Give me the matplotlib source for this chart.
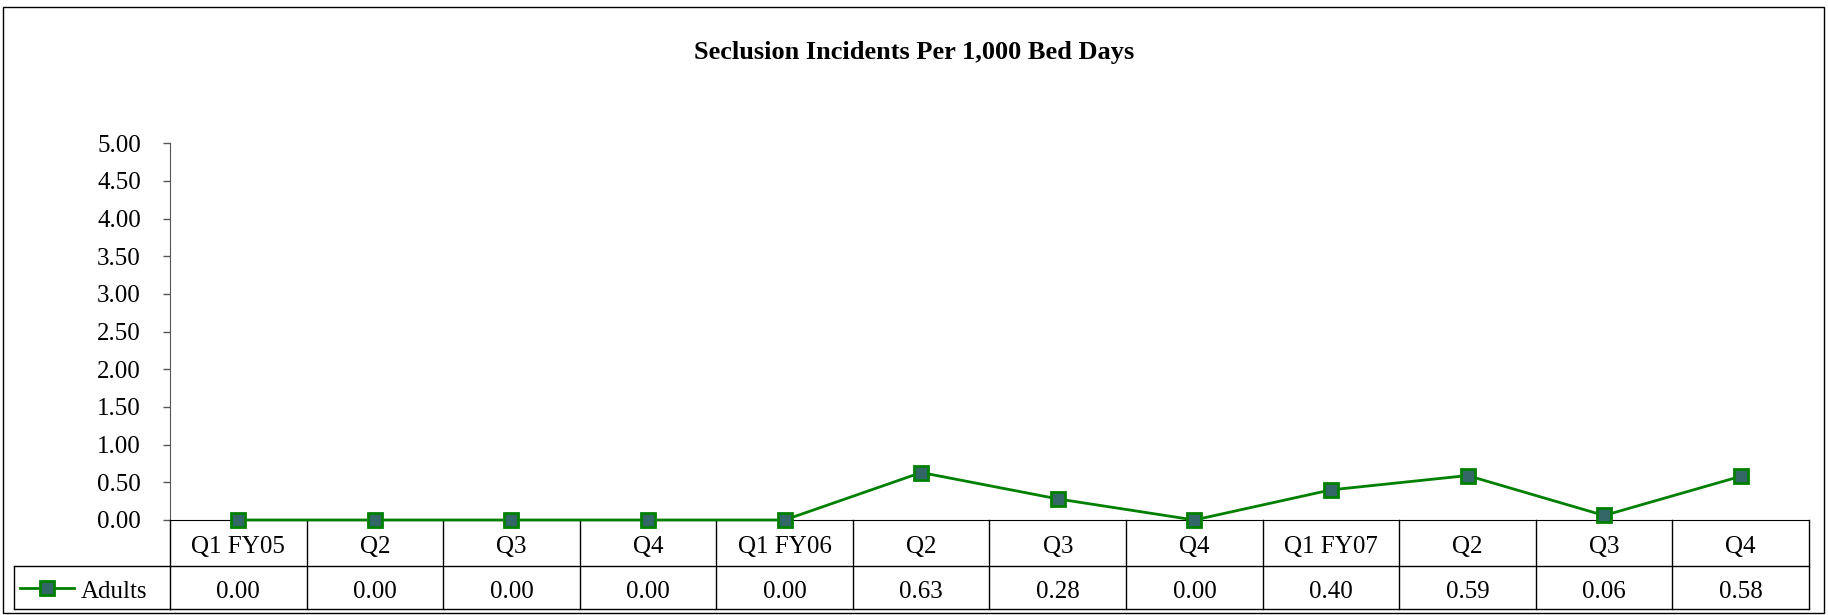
import matplotlib
matplotlib.use("Agg")
import matplotlib.pyplot as plt
from matplotlib.lines import Line2D
from matplotlib.patches import Rectangle
import matplotlib.transforms as mtransforms

plt.rcParams['font.family'] = ['Liberation Serif', 'DejaVu Serif']

title = "Seclusion Incidents Per 1,000 Bed Days"
categories = ["Q1 FY05", "Q2", "Q3", "Q4", "Q1 FY06", "Q2", "Q3", "Q4",
              "Q1 FY07", "Q2", "Q3", "Q4"]
series_name = "Adults"
values = [0.00, 0.00, 0.00, 0.00, 0.00, 0.63, 0.28, 0.00, 0.40, 0.59, 0.06, 0.58]
yticks = [0.0, 0.5, 1.0, 1.5, 2.0, 2.5, 3.0, 3.5, 4.0, 4.5, 5.0]

W, H = 1828, 615
FS = 18
fig = plt.figure(figsize=(W / 100, H / 100), dpi=100)

# outer frame
fig.patches.append(Rectangle((3 / W, 1 - 613 / H), (1824 - 3) / W, (613 - 7) / H,
                             transform=fig.transFigure, fill=False,
                             edgecolor='black', linewidth=1.0))

left, right, top, bottom = 170, 1809, 143.3, 520
ax = fig.add_axes([left / W, 1 - bottom / H, (right - left) / W, (bottom - top) / H])

x = list(range(len(categories)))
line_color = '#008000'
ax.plot(x, values, color=line_color, linewidth=2, marker='s', markersize=10,
        markerfacecolor='#336666', markeredgecolor=line_color, markeredgewidth=2,
        zorder=5, clip_on=False)

ax.set_xlim(-0.5, len(categories) - 0.5)
ax.set_ylim(0, 5)
ax.set_yticks(yticks)
ax.set_yticklabels([f"{v:.2f}" for v in yticks], fontsize=FS)
ax.set_xticks([])
for s in ['top', 'right']:
    ax.spines[s].set_visible(False)
ax.spines['left'].set_color('#555555')
ax.spines['bottom'].set_color('black')
ax.tick_params(axis='y', direction='out', length=5, width=1, color='#555555', pad=16)

fig.text(0.5, 1 - 53 / H, title, ha='center', va='center', fontsize=19, fontweight='bold')

# table below the axes
ah = bottom - top
row1 = -(566 - bottom) / ah
row2 = -(609 - bottom) / ah
dy = 4 / ah
trans = mtransforms.blended_transform_factory(ax.transData, ax.transAxes)
n = len(categories)
lkw = dict(color='black', linewidth=1.0, clip_on=False)
ax.plot([-0.5, n - 0.5], [row1, row1], transform=trans, **lkw)
ax.plot([-0.5, n - 0.5], [row2, row2], transform=trans, **lkw)
leg_left = -(left - 14) / (right - left)
ax.plot([leg_left, 0], [row1, row1], transform=ax.transAxes, **lkw)
ax.plot([leg_left, 0], [row2, row2], transform=ax.transAxes, **lkw)
ax.plot([leg_left, leg_left], [row1, row2], transform=ax.transAxes, **lkw)
for b in range(n + 1):
    ax.plot([b - 0.5, b - 0.5], [0, row2], transform=trans, **lkw)

for i, (c, v) in enumerate(zip(categories, values)):
    ax.text(i, row1 / 2 - dy, c, transform=trans, ha='center', va='center', fontsize=FS)
    ax.text(i, (row1 + row2) / 2 - dy, f"{v:.2f}", transform=trans, ha='center',
            va='center', fontsize=FS)

# legend key inside the table
ymid = (row1 + row2) / 2
lx0 = -(left - 20) / (right - left)
lx1 = -(left - 74) / (right - left)
ax.add_line(Line2D([lx0, lx1], [ymid, ymid], transform=ax.transAxes, color=line_color,
                   linewidth=2, clip_on=False))
ax.add_line(Line2D([(lx0 + lx1) / 2], [ymid], transform=ax.transAxes, marker='s',
                   markersize=10, markerfacecolor='#336666', markeredgecolor=line_color,
                   markeredgewidth=2, clip_on=False))
ax.text(-(left - 81) / (right - left), ymid - dy, series_name, transform=ax.transAxes,
        ha='left', va='center', fontsize=FS)

fig.savefig("out.png", dpi=100)
